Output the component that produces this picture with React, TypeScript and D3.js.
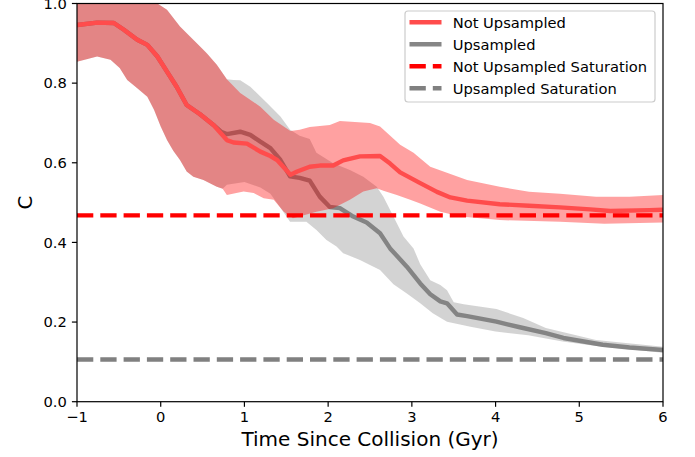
import React from "react";
import * as d3 from "d3";

// ---- Data ----
const notUpMeanT = [-1, -0.76, -0.56, -0.44, -0.28, -0.16, -0.04, 0.075, 0.19, 0.31, 0.47, 0.63, 0.79, 0.87, 1.03, 1.19, 1.31, 1.39, 1.55, 1.63, 1.78, 1.9, 2.06, 2.18, 2.38, 2.62, 2.74, 2.86, 3.1, 3.3, 3.46, 3.66, 4.05, 4.4, 4.77, 5.13, 5.37, 5.84, 6.0];
const notUpMeanV = [0.946, 0.952, 0.951, 0.934, 0.909, 0.896, 0.867, 0.829, 0.791, 0.745, 0.722, 0.695, 0.657, 0.651, 0.648, 0.628, 0.617, 0.607, 0.57, 0.578, 0.59, 0.593, 0.593, 0.606, 0.616, 0.617, 0.598, 0.576, 0.549, 0.527, 0.513, 0.505, 0.496, 0.492, 0.488, 0.483, 0.479, 0.481, 0.482];

const notUpHighT = [-1, -0.6, -0.3, -0.04, 0.075, 0.23, 0.35, 0.47, 0.55, 0.67, 0.79, 0.95, 1.19, 1.35, 1.55, 1.66, 1.78, 2.02, 2.14, 2.5, 2.62, 2.86, 3.02, 3.22, 3.66, 4.05, 4.4, 4.77, 5.2, 5.6, 6.0];
const notUpHighV = [1.04, 1.05, 1.03, 1.0, 0.984, 0.942, 0.917, 0.892, 0.875, 0.846, 0.81, 0.775, 0.741, 0.708, 0.68, 0.683, 0.69, 0.695, 0.705, 0.7, 0.691, 0.645, 0.625, 0.59, 0.557, 0.54, 0.527, 0.522, 0.515, 0.515, 0.519];

const notUpLowT = [-1, -0.76, -0.6, -0.49, -0.4, -0.28, -0.16, -0.08, 0.0, 0.075, 0.15, 0.23, 0.31, 0.39, 0.51, 0.67, 0.74, 0.79, 0.99, 1.11, 1.23, 1.35, 1.47, 1.58, 1.86, 2.06, 2.26, 2.42, 2.58, 2.66, 2.82, 2.98, 3.1, 3.34, 3.58, 4.05, 4.77, 5.3, 6.0];
const notUpLowV = [0.854, 0.867, 0.859, 0.838, 0.808, 0.787, 0.766, 0.733, 0.691, 0.657, 0.63, 0.607, 0.578, 0.565, 0.557, 0.54, 0.535, 0.519, 0.528, 0.524, 0.511, 0.507, 0.477, 0.461, 0.477, 0.486, 0.507, 0.528, 0.536, 0.53, 0.519, 0.507, 0.498, 0.477, 0.465, 0.456, 0.452, 0.447, 0.45];

const upMeanT = [-1, -0.76, -0.56, -0.44, -0.28, -0.16, -0.04, 0.075, 0.19, 0.31, 0.47, 0.63, 0.72, 0.79, 0.95, 1.07, 1.19, 1.31, 1.43, 1.545, 1.66, 1.78, 1.9, 2.02, 2.14, 2.3, 2.46, 2.62, 2.74, 2.94, 3.1, 3.22, 3.34, 3.42, 3.54, 3.66, 4.01, 4.29, 4.6, 4.81, 5.28, 5.6, 6.0];
const upMeanV = [0.946, 0.952, 0.951, 0.934, 0.909, 0.896, 0.867, 0.829, 0.791, 0.745, 0.722, 0.695, 0.678, 0.672, 0.678, 0.67, 0.653, 0.637, 0.607, 0.566, 0.562, 0.555, 0.515, 0.489, 0.486, 0.465, 0.45, 0.423, 0.385, 0.339, 0.297, 0.27, 0.252, 0.247, 0.219, 0.215, 0.201, 0.187, 0.172, 0.16, 0.143, 0.136, 0.13];

const upHighT = [-1, -0.6, -0.3, -0.04, 0.075, 0.23, 0.35, 0.47, 0.55, 0.67, 0.79, 0.87, 0.95, 1.07, 1.27, 1.43, 1.545, 1.66, 1.78, 1.86, 2.06, 2.26, 2.42, 2.58, 2.66, 2.78, 2.9, 3.02, 3.1, 3.22, 3.34, 3.42, 3.5, 3.62, 4.01, 4.33, 4.6, 5.2, 6.0];
const upHighV = [1.04, 1.05, 1.03, 1.0, 0.984, 0.942, 0.917, 0.892, 0.875, 0.846, 0.81, 0.808, 0.807, 0.791, 0.75, 0.716, 0.683, 0.668, 0.66, 0.625, 0.599, 0.582, 0.565, 0.54, 0.515, 0.465, 0.415, 0.385, 0.345, 0.305, 0.293, 0.28, 0.25, 0.245, 0.233, 0.21, 0.185, 0.155, 0.138];

const upLowT = [-1, -0.76, -0.6, -0.49, -0.4, -0.28, -0.16, -0.08, 0.0, 0.075, 0.15, 0.23, 0.31, 0.39, 0.51, 0.67, 0.74, 0.79, 1.0, 1.19, 1.31, 1.42, 1.545, 1.74, 1.86, 1.98, 2.1, 2.18, 2.38, 2.62, 2.78, 2.94, 3.1, 3.25, 3.42, 3.7, 4.0, 4.39, 4.8, 5.2, 6.0];
const upLowV = [0.854, 0.867, 0.859, 0.838, 0.808, 0.787, 0.766, 0.733, 0.691, 0.657, 0.63, 0.607, 0.578, 0.565, 0.557, 0.54, 0.535, 0.545, 0.552, 0.538, 0.522, 0.49, 0.452, 0.452, 0.431, 0.406, 0.39, 0.373, 0.356, 0.331, 0.295, 0.272, 0.247, 0.222, 0.201, 0.188, 0.176, 0.167, 0.151, 0.14, 0.123];

const notUpSaturation = 0.468;
const upSaturation = 0.106;

const xTicks = [-1, 0, 1, 2, 3, 4, 5, 6];
const yTicks = [0, 0.2, 0.4, 0.6, 0.8, 1.0];
const legendLabels = ["Not Upsampled", "Upsampled", "Not Upsampled Saturation", "Upsampled Saturation"];

// ---- Layout ----
const W = 695;
const H = 457;
const L = 77;
const R = 663;
const T = 3.5;
const B = 401.7;
const FONT = "DejaVu Sans, sans-serif";

export default function App() {
  const x = d3.scaleLinear().domain([-1, 6]).range([L, R]);
  const y = d3.scaleLinear().domain([0, 1]).range([B, T]);

  const pts = (ts: number[], vs: number[]) => ts.map((t, i) => [x(t), y(vs[i])] as [number, number]);
  const line = d3.line<[number, number]>();
  const band = (ht: number[], hv: number[], lt: number[], lv: number[]) =>
    line([...pts(ht, hv), ...pts(lt, lv).reverse()]) + "Z";

  const lw = 4.4;
  const dash = "16.3 7";
  const redLine = "#ff4c4c";
  const grayLine = "#808080";

  const legendRows = [
    { stroke: redLine, opacity: 1, dash: undefined },
    { stroke: grayLine, opacity: 0.95, dash: undefined },
    { stroke: "#ff0000", opacity: 1, dash: dash },
    { stroke: "#808080", opacity: 1, dash: dash },
  ];

  return (
    <svg width={W} height={H} style={{ position: "absolute", left: 0, top: 0, background: "#fff" }} fontFamily={FONT}>
      <defs>
        <clipPath id="plotclip">
          <rect x={L} y={T} width={R - L} height={B - T} />
        </clipPath>
      </defs>
      <rect x={0} y={0} width={W} height={H} fill="#fff" />
      <g clipPath="url(#plotclip)">
        <path d={band(upHighT, upHighV, upLowT, upLowV)} fill="#808080" fillOpacity={0.35} />
        <path d={line(pts(upMeanT, upMeanV)) || ""} fill="none" stroke={grayLine} strokeOpacity={0.95} strokeWidth={lw} strokeLinejoin="round" />
        <path d={band(notUpHighT, notUpHighV, notUpLowT, notUpLowV)} fill="#ff0000" fillOpacity={0.37} />
        <path d={line(pts(notUpMeanT, notUpMeanV)) || ""} fill="none" stroke={redLine} strokeWidth={lw} strokeLinejoin="round" />
        <line x1={x(-1)} x2={x(6)} y1={y(notUpSaturation)} y2={y(notUpSaturation)} stroke="#ff0000" strokeWidth={lw} strokeDasharray={dash} />
        <line x1={x(-1)} x2={x(6)} y1={y(upSaturation)} y2={y(upSaturation)} stroke="#808080" strokeWidth={lw} strokeDasharray={dash} />
      </g>

      {/* frame */}
      <rect x={L} y={T} width={R - L} height={B - T} fill="none" stroke="#000" strokeWidth={1.2} />

      {/* x ticks */}
      {xTicks.map((t) => (
        <g key={"x" + t}>
          <line x1={x(t)} x2={x(t)} y1={B} y2={B + 5.1} stroke="#000" strokeWidth={1.2} />
          <text x={x(t)} y={B + 20.5} textAnchor="middle" fontSize={14.7} fill="#000">
            {t < 0 ? "\u2212" + Math.abs(t) : String(t)}
          </text>
        </g>
      ))}
      {/* y ticks */}
      {yTicks.map((t) => (
        <g key={"y" + t}>
          <line x1={L - 5.1} x2={L} y1={y(t)} y2={y(t)} stroke="#000" strokeWidth={1.2} />
          <text x={L - 10.2} y={y(t)} dy="0.36em" textAnchor="end" fontSize={14.7} fill="#000">
            {t.toFixed(1)}
          </text>
        </g>
      ))}

      <text x={(L + R) / 2} y={446} textAnchor="middle" fontSize={20} fill="#000">
        Time Since Collision (Gyr)
      </text>
      <text transform={`translate(31.5, ${(T + B) / 2}) rotate(-90)`} textAnchor="middle" fontSize={20} fill="#000">
        C
      </text>

      {/* legend */}
      <g>
        <rect x={405} y={11} width={250} height={91} rx={3} fill="#fff" fillOpacity={0.8} stroke="#cccccc" strokeWidth={1.2} />
        {legendRows.map((r, i) => {
          const cy = 22.3 + i * 22;
          return (
            <g key={"lg" + i}>
              <line x1={409.5} x2={441.5} y1={cy} y2={cy} stroke={r.stroke} strokeOpacity={r.opacity} strokeWidth={lw} strokeDasharray={r.dash} />
              <text x={452.7} y={cy} dy="0.36em" fontSize={14.7} fill="#000">
                {legendLabels[i]}
              </text>
            </g>
          );
        })}
      </g>
    </svg>
  );
}
